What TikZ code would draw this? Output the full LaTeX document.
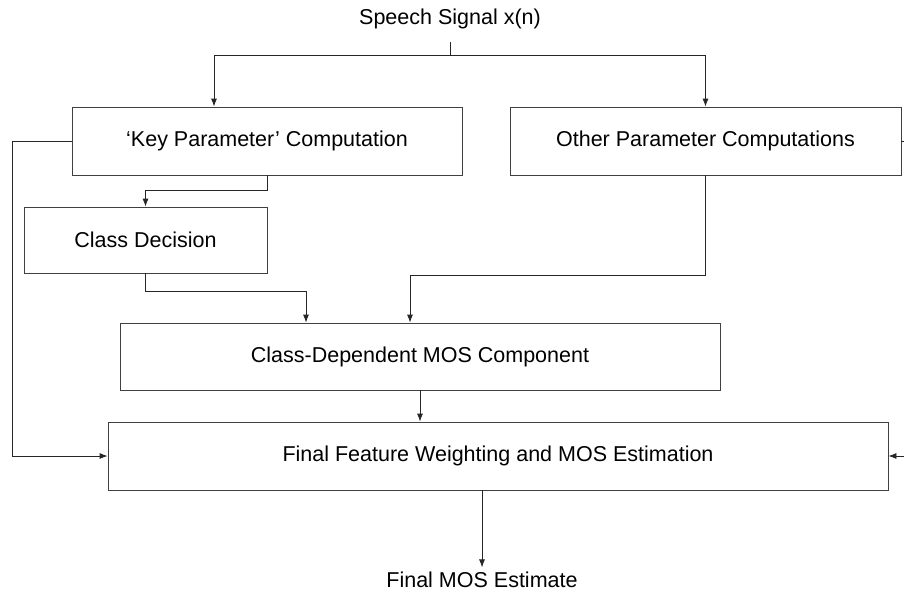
\documentclass[tikz,border=0pt]{standalone}
\usepackage{fontspec}
\setmainfont{Liberation Sans}
\usepackage{tikz}
\usetikzlibrary{arrows.meta, positioning}
\tikzset{
    block/.style={
        rectangle,
        draw=black!75,
        line width=0.8pt,
        align=center,
        font=\fontsize{21.5}{25}\selectfont
    },
    label/.style={
        font=\fontsize{21.5}{25}\selectfont
    },
    flow/.style={
        -{Latex[length=8pt,width=6pt]},
        line width=0.8pt,
        draw=black!85
    },
    wire/.style={
        line width=0.8pt,
        draw=black!85
    }
}

\begin{document}
\begin{tikzpicture}[x=1pt, y=-1pt]
    \useasboundingbox (0,0) rectangle (904,592);

    % Input and output labels
    \node (Signal) [label] at (450,19) {Speech Signal x(n)};
    \node (Estimate) [label] at (482,580) {Final MOS Estimate};

    % Processing blocks
    \node (KeyParam) [block, minimum width=390pt, minimum height=68pt] at (267,141) {`Key Parameter' Computation};
    \node (OtherParam) [block, minimum width=391pt, minimum height=68pt] at (705.5,141) {Other Parameter Computations};
    \node (ClassDecision) [block, minimum width=243pt, minimum height=66pt] at (145.5,240) {Class Decision};
    \node (ClassMOS) [block, minimum width=600pt, minimum height=67pt] at (420,356.5) {Class-Dependent MOS Component};
    \node (FinalWeighting) [block, minimum width=780pt, minimum height=68pt] at (498,456) {Final Feature Weighting and MOS Estimation};

    % Loose ends at the right border
    \coordinate (OtherOut) at (904,141);
    \coordinate (OtherIn) at (904,456);

    % Signal split
    \coordinate (Split) at (450,55);
    \draw [wire] ([yshift=-9pt]Signal.south) -- (Split);
    \draw [flow] (Split) -| ([xshift=-53pt]KeyParam.north);
    \draw [flow] (Split) -| (OtherParam.north);

    % Connections between blocks
    \draw [flow] (KeyParam.south) -- ++(0,15) -| (ClassDecision.north);
    \draw [flow] (ClassDecision.south) -- ++(0,18) -| ([xshift=-114pt]ClassMOS.north);
    \draw [flow] (OtherParam.south) -- ++(0,100) -| ([xshift=-10pt]ClassMOS.north);
    \draw [flow] (ClassMOS.south) -- ([xshift=-78pt]FinalWeighting.north);
    \draw [flow] (KeyParam.west) -- ++(-59,0) |- (FinalWeighting.west);
    \draw [wire] (OtherParam.east) -- (OtherOut);
    \draw [flow] (OtherIn) -- (FinalWeighting.east);
    \draw [flow] ([xshift=-16pt]FinalWeighting.south) -- ++(0,77);

\end{tikzpicture}
\end{document}
